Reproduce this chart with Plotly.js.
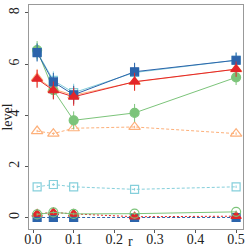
<!DOCTYPE html>
<html><head><meta charset="utf-8">
<script src="https://cdn.plot.ly/plotly-3.0.1.min.js"></script>
<style>html,body{margin:0;padding:0;background:#fff}</style>
</head><body><div id="c" style="width:249px;height:249px"></div>
<script>
const r = [0.01, 0.05, 0.1, 0.25, 0.5];
const blueTop = [6.45, 5.3, 4.8, 5.7, 6.15];
const cyanTop = [6.48, 5.36, 4.88, 5.67, 6.15];
const redTop = [5.42, 4.97, 4.72, 5.31, 5.8];
const orangeTop = [5.46, 5.02, 4.78, 5.3, 5.8];
const greenTop = [6.55, 4.98, 3.8, 4.09, 5.48];
const orangeMid = [3.38, 3.28, 3.49, 3.54, 3.28];
const cyanMid = [1.2, 1.29, 1.2, 1.1, 1.2];
const greenLow = [0.12, 0.2, 0.14, 0.15, 0.22];
const redLow = [0.14, 0.2, 0.14, 0.03, 0.05];
const blueLow = [0.0, 0.0, 0.0, 0.0, 0.0];
const errTop = [0.35, 0.35, 0.35, 0.35, 0.3];
const errSmall = [0.05, 0.05, 0.05, 0.05, 0.05];

const BLUE='#2c64ab', RED='#e3262a', GREEN='#7cc47a', CYAN='#85cfdb', ORANGE='#fdb07a';
function tr(y, color, sym, dash, err, size, lw){
  return {x:r, y:y, type:'scatter', mode:'lines+markers',
    line:{color:color, width:lw||1, dash:dash||'solid'},
    marker:{symbol:sym, size:size||9, color:color, line:{color:color, width:1.2}},
    error_y:{type:'data', array:err, visible:true, color:color, thickness:1, width:0}};
}
const data = [
  tr(cyanMid, CYAN, 'square-open', '3px,2px', errSmall, 8),
  tr(orangeMid, ORANGE, 'triangle-up-open', '3px,2px', errSmall, 10),
  tr(cyanTop, CYAN, 'square-open', 'solid', errTop, 8),
  tr(orangeTop, ORANGE, 'triangle-up-open', 'solid', errTop, 10),
  tr(blueLow, BLUE, 'square', '3px,2px', errSmall, 8),
  tr(redLow, RED, 'triangle-up', '2px,2px', errSmall, 9),
  tr(greenLow, GREEN, 'circle-open', 'solid', errSmall, 9),
  tr(greenTop, GREEN, 'circle', 'solid', errTop, 9),
  tr(blueTop, BLUE, 'square', 'solid', errTop, 8),
  tr(redTop, RED, 'triangle-up', 'solid', errTop, 9)
];
const F = {family:'"Liberation Serif", "DejaVu Serif", serif', size:14, color:'#222'};
const layout = {
  width:249, height:249, showlegend:false,
  margin:{l:29, r:6, t:5, b:20},
  paper_bgcolor:'#fff', plot_bgcolor:'#fff', font:F,
  xaxis:{range:[-0.01, 0.517], tickvals:[0,0.1,0.2,0.3,0.4,0.5], ticktext:['0.0','0.1','0.2','0.3','0.4','0.5'],
    showgrid:false, zeroline:false, showline:true, mirror:true, linecolor:'#999', linewidth:1,
    ticks:'outside', ticklen:3, tickcolor:'#555', tickfont:F, ticklabelstandoff:-6},
  yaxis:{range:[-0.45, 8.31], tickvals:[0,2,4,6,8], showgrid:false, zeroline:false, showline:true, mirror:true,
    linecolor:'#999', linewidth:1, ticks:'outside', ticklen:3, tickcolor:'#555', tickfont:F, tickangle:-90,
    title:{text:'level', font:F, standoff:2}},
  annotations:[{text:'r', xref:'paper', yref:'paper', x:0.472, y:-0.058, xanchor:'center', yanchor:'middle', showarrow:false, font:F}]
};
Plotly.newPlot('c', data, layout, {staticPlot:true, displayModeBar:false});
</script></body></html>
